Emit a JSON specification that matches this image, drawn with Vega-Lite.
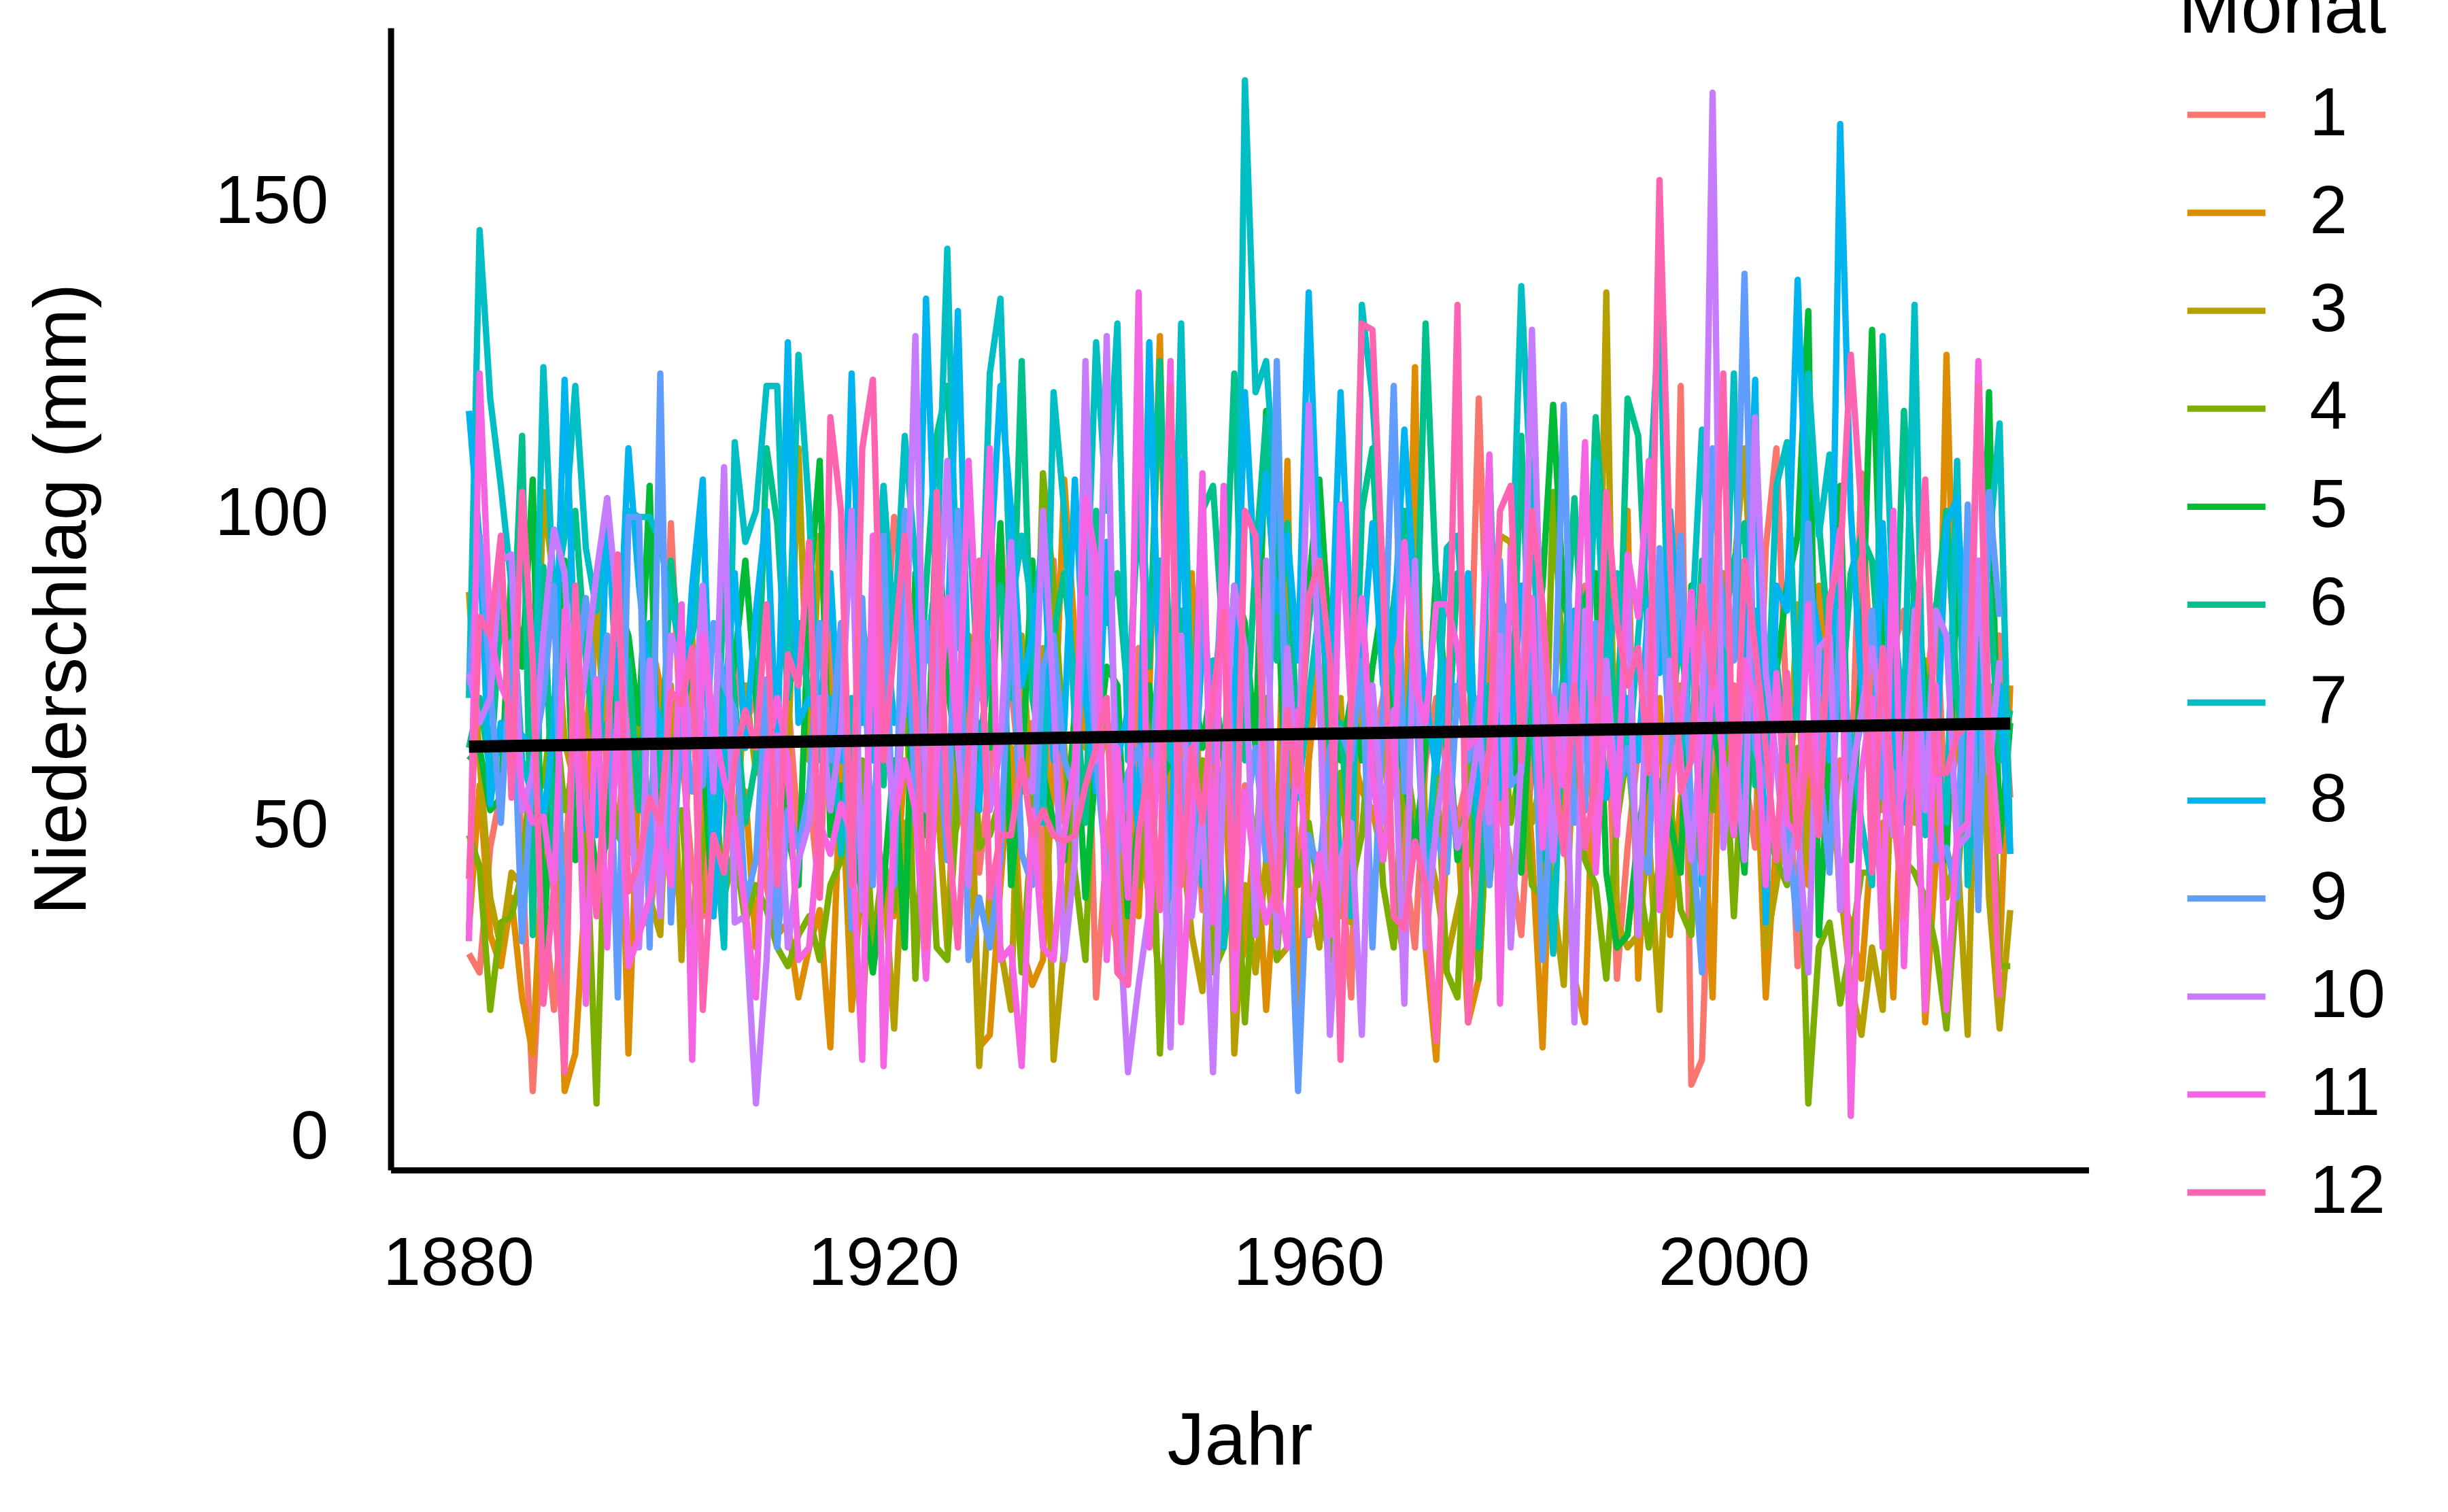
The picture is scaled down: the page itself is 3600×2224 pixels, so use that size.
{"$schema":"https://vega.github.io/schema/vega-lite/v6.json","width":2497,"height":1680,"autosize":{"type":"none"},"padding":{"left":574.6,"top":41,"right":528.4,"bottom":503},"background":"white","config":{"view":{"stroke":null},"font":"Liberation Sans"},
"datasets":{"trend":[{"J":1881,"v":62.2},{"J":2026,"v":65.9}],
"rain":[
{"J":1881,"1":29,"2":33,"3":87,"4":48,"5":60,"6":62,"7":70,"8":116,"9":72,"10":74,"11":31,"12":41},
{"J":1882,"1":26,"2":56,"3":60,"4":43,"5":62,"6":70,"7":145,"8":95,"9":96,"10":66,"11":122,"12":83},
{"J":1883,"1":46,"2":32,"3":38,"4":20,"5":52,"6":58,"7":118,"8":53,"9":72,"10":70,"11":80,"12":80},
{"J":1884,"1":55,"2":27,"3":30,"4":34,"5":54,"6":84,"7":104,"8":66,"9":50,"10":92,"11":72,"12":96},
{"J":1885,"1":82,"2":38,"3":42,"4":35,"5":91,"6":72,"7":88,"8":60,"9":79,"10":93,"11":68,"12":54},
{"J":1886,"1":44,"2":22,"3":40,"4":42,"5":75,"6":112,"7":60,"8":64,"9":31,"10":52,"11":55,"12":103},
{"J":1887,"1":7,"2":13,"3":48,"4":62,"5":105,"6":32,"7":54,"8":62,"9":60,"10":58,"11":50,"12":76},
{"J":1888,"1":38,"2":47,"3":103,"4":56,"5":30,"6":91,"7":123,"8":50,"9":70,"10":80,"11":51,"12":21},
{"J":1889,"1":20,"2":66,"3":88,"4":70,"5":61,"6":45,"7":85,"8":66,"9":88,"10":97,"11":39,"12":40},
{"J":1890,"1":42,"2":7,"3":63,"4":52,"5":92,"6":82,"7":96,"8":121,"9":24,"10":90,"11":84,"12":10},
{"J":1891,"1":70,"2":13,"3":56,"4":60,"5":44,"6":100,"7":120,"8":76,"9":72,"10":60,"11":74,"12":88},
{"J":1892,"1":55,"2":40,"3":63,"4":50,"5":55,"6":76,"7":94,"8":49,"9":86,"10":75,"11":21,"12":54},
{"J":1893,"1":38,"2":90,"3":85,"4":5,"5":42,"6":60,"7":84,"8":48,"9":68,"10":90,"11":73,"12":35},
{"J":1894,"1":54,"2":68,"3":58,"4":62,"5":47,"6":66,"7":102,"8":100,"9":80,"10":102,"11":30,"12":62},
{"J":1895,"1":48,"2":75,"3":74,"4":48,"5":85,"6":60,"7":68,"8":72,"9":22,"10":84,"11":69,"12":93},
{"J":1896,"1":70,"2":13,"3":70,"4":45,"5":80,"6":76,"7":100,"8":110,"9":99,"10":60,"11":27,"12":39},
{"J":1897,"1":33,"2":60,"3":62,"4":70,"5":66,"6":52,"7":99,"8":88,"9":99,"10":30,"11":32,"12":44},
{"J":1898,"1":35,"2":80,"3":38,"4":50,"5":104,"6":82,"7":99,"8":72,"9":30,"10":76,"11":38,"12":54},
{"J":1899,"1":48,"2":72,"3":32,"4":62,"5":42,"6":56,"7":95,"8":66,"9":122,"10":35,"11":50,"12":50},
{"J":1900,"1":98,"2":45,"3":72,"4":50,"5":60,"6":92,"7":85,"8":46,"9":34,"10":80,"11":40,"12":71},
{"J":1901,"1":62,"2":36,"3":28,"4":52,"5":68,"6":75,"7":78,"8":62,"9":70,"10":75,"11":85,"12":69},
{"J":1902,"1":42,"2":32,"3":80,"4":30,"5":75,"6":80,"7":80,"8":88,"9":55,"10":62,"11":12,"12":78},
{"J":1903,"1":35,"2":55,"3":36,"4":46,"5":62,"6":88,"7":102,"8":105,"9":56,"10":88,"11":80,"12":20},
{"J":1904,"1":60,"2":62,"3":40,"4":58,"5":35,"6":42,"7":52,"8":35,"9":82,"10":55,"11":66,"12":48},
{"J":1905,"1":62,"2":74,"3":42,"4":38,"5":64,"6":90,"7":30,"8":68,"9":72,"10":107,"11":57,"12":42},
{"J":1906,"1":75,"2":40,"3":45,"4":46,"5":76,"6":70,"7":111,"8":90,"9":68,"10":34,"11":50,"12":60},
{"J":1907,"1":66,"2":55,"3":72,"4":34,"5":92,"6":50,"7":95,"8":62,"9":37,"10":35,"11":36,"12":68},
{"J":1908,"1":70,"2":30,"3":58,"4":40,"5":70,"6":60,"7":100,"8":84,"9":44,"10":5,"11":22,"12":62},
{"J":1909,"1":40,"2":56,"3":70,"4":36,"5":54,"6":110,"7":120,"8":100,"9":73,"10":28,"11":60,"12":85},
{"J":1910,"1":30,"2":32,"3":64,"4":30,"5":62,"6":98,"7":120,"8":60,"9":30,"10":64,"11":70,"12":40},
{"J":1911,"1":70,"2":34,"3":60,"4":27,"5":48,"6":70,"7":72,"8":127,"9":52,"10":30,"11":60,"12":77},
{"J":1912,"1":48,"2":22,"3":110,"4":32,"5":40,"6":82,"7":125,"8":66,"9":46,"10":44,"11":28,"12":72},
{"J":1913,"1":55,"2":30,"3":60,"4":35,"5":86,"6":70,"7":100,"8":70,"9":55,"10":50,"11":30,"12":95},
{"J":1914,"1":38,"2":36,"3":96,"4":28,"5":108,"6":68,"7":60,"8":66,"9":82,"10":70,"11":50,"12":38},
{"J":1915,"1":88,"2":14,"3":68,"4":40,"5":48,"6":55,"7":70,"8":90,"9":60,"10":52,"11":45,"12":115},
{"J":1916,"1":46,"2":60,"3":72,"4":44,"5":56,"6":80,"7":45,"8":60,"9":82,"10":65,"11":53,"12":100},
{"J":1917,"1":40,"2":20,"3":30,"4":55,"5":50,"6":60,"7":70,"8":122,"9":33,"10":100,"11":48,"12":40},
{"J":1918,"1":44,"2":42,"3":18,"4":60,"5":38,"6":82,"7":66,"8":70,"9":86,"10":36,"11":12,"12":110},
{"J":1919,"1":50,"2":28,"3":50,"4":30,"5":26,"6":70,"7":78,"8":60,"9":40,"10":82,"11":96,"12":121},
{"J":1920,"1":72,"2":38,"3":42,"4":44,"5":40,"6":56,"7":104,"8":85,"9":96,"10":68,"11":11,"12":60},
{"J":1921,"1":99,"2":35,"3":17,"4":36,"5":60,"6":88,"7":80,"8":66,"9":40,"10":52,"11":50,"12":78},
{"J":1922,"1":85,"2":60,"3":50,"4":80,"5":30,"6":75,"7":112,"8":70,"9":100,"10":70,"11":60,"12":96},
{"J":1923,"1":70,"2":55,"3":34,"4":25,"5":90,"6":58,"7":92,"8":65,"9":50,"10":128,"11":52,"12":70},
{"J":1924,"1":68,"2":48,"3":33,"4":62,"5":48,"6":88,"7":76,"8":134,"9":82,"10":52,"11":25,"12":30},
{"J":1925,"1":55,"2":70,"3":56,"4":30,"5":102,"6":112,"7":90,"8":84,"9":68,"10":72,"11":60,"12":103},
{"J":1926,"1":60,"2":44,"3":30,"4":28,"5":72,"6":120,"7":142,"8":78,"9":44,"10":108,"11":86,"12":50},
{"J":1927,"1":50,"2":50,"3":70,"4":55,"5":60,"6":90,"7":78,"8":132,"9":100,"10":62,"11":62,"12":30},
{"J":1928,"1":66,"2":72,"3":60,"4":80,"5":44,"6":76,"7":100,"8":70,"9":28,"10":40,"11":108,"12":62},
{"J":1929,"1":42,"2":14,"3":11,"4":46,"5":66,"6":62,"7":70,"8":52,"9":38,"10":80,"11":72,"12":92},
{"J":1930,"1":58,"2":16,"3":40,"4":48,"5":62,"6":75,"7":122,"8":90,"9":30,"10":52,"11":110,"12":38},
{"J":1931,"1":97,"2":40,"3":30,"4":54,"5":98,"6":88,"7":134,"8":120,"9":44,"10":62,"11":28,"12":48},
{"J":1932,"1":72,"2":62,"3":20,"4":52,"5":40,"6":70,"7":84,"8":100,"9":86,"10":95,"11":30,"12":48},
{"J":1933,"1":55,"2":30,"3":80,"4":26,"5":58,"6":124,"7":96,"8":72,"9":45,"10":58,"11":11,"12":60},
{"J":1934,"1":66,"2":24,"3":52,"4":50,"5":92,"6":70,"7":84,"8":80,"9":40,"10":55,"11":52,"12":48},
{"J":1935,"1":38,"2":28,"3":78,"4":106,"5":58,"6":60,"7":50,"8":96,"9":75,"10":100,"11":30,"12":52},
{"J":1936,"1":92,"2":60,"3":12,"4":88,"5":50,"6":80,"7":119,"8":60,"9":80,"10":70,"11":28,"12":48},
{"J":1937,"1":50,"2":105,"3":30,"4":62,"5":44,"6":90,"7":100,"8":65,"9":60,"10":28,"11":48,"12":47},
{"J":1938,"1":66,"2":80,"3":62,"4":42,"5":68,"6":72,"7":66,"8":105,"9":55,"10":44,"11":60,"12":48},
{"J":1939,"1":85,"2":62,"3":54,"4":28,"5":38,"6":50,"7":80,"8":70,"9":86,"10":124,"11":102,"12":56},
{"J":1940,"1":22,"2":72,"3":56,"4":72,"5":60,"6":100,"7":127,"8":55,"9":60,"10":60,"11":92,"12":62},
{"J":1941,"1":46,"2":38,"3":66,"4":66,"5":75,"6":82,"7":100,"8":95,"9":42,"10":128,"11":28,"12":70},
{"J":1942,"1":62,"2":30,"3":64,"4":52,"5":72,"6":90,"7":130,"8":60,"9":45,"10":40,"11":62,"12":26},
{"J":1943,"1":30,"2":56,"3":25,"4":50,"5":35,"6":70,"7":60,"8":68,"9":58,"10":10,"11":38,"12":24},
{"J":1944,"1":78,"2":35,"3":50,"4":40,"5":50,"6":100,"7":108,"8":48,"9":62,"10":24,"11":135,"12":48},
{"J":1945,"1":55,"2":70,"3":38,"4":70,"5":72,"6":75,"7":80,"8":127,"9":50,"10":36,"11":30,"12":60},
{"J":1946,"1":40,"2":128,"3":25,"4":13,"5":56,"6":124,"7":92,"8":70,"9":80,"10":66,"11":72,"12":36},
{"J":1947,"1":58,"2":46,"3":30,"4":46,"5":60,"6":70,"7":60,"8":38,"9":18,"10":14,"11":124,"12":120},
{"J":1948,"1":62,"2":60,"3":48,"4":50,"5":78,"6":84,"7":130,"8":108,"9":60,"10":80,"11":18,"12":40},
{"J":1949,"1":70,"2":90,"3":32,"4":50,"5":74,"6":62,"7":62,"8":50,"9":40,"10":35,"11":48,"12":62},
{"J":1950,"1":36,"2":40,"3":23,"4":60,"5":62,"6":100,"7":40,"8":78,"9":90,"10":52,"11":106,"12":50},
{"J":1951,"1":72,"2":28,"3":60,"4":26,"5":74,"6":104,"7":76,"8":70,"9":60,"10":10,"11":34,"12":70},
{"J":1952,"1":60,"2":60,"3":90,"4":30,"5":60,"6":78,"7":30,"8":86,"9":96,"10":58,"11":104,"12":84},
{"J":1953,"1":40,"2":24,"3":13,"4":50,"5":88,"6":122,"7":45,"8":66,"9":48,"10":88,"11":20,"12":30},
{"J":1954,"1":56,"2":30,"3":40,"4":18,"5":82,"6":60,"7":169,"8":119,"9":50,"10":78,"11":55,"12":100},
{"J":1955,"1":48,"2":50,"3":26,"4":45,"5":62,"6":92,"7":119,"8":88,"9":62,"10":32,"11":42,"12":96},
{"J":1956,"1":50,"2":20,"3":44,"4":70,"5":116,"6":115,"7":124,"8":106,"9":44,"10":92,"11":34,"12":52},
{"J":1957,"1":48,"2":44,"3":28,"4":28,"5":90,"6":76,"7":100,"8":84,"9":124,"10":30,"11":40,"12":36},
{"J":1958,"1":65,"2":108,"3":30,"4":55,"5":48,"6":98,"7":76,"8":96,"9":52,"10":78,"11":30,"12":68},
{"J":1959,"1":42,"2":12,"3":62,"4":40,"5":60,"6":60,"7":54,"8":76,"9":7,"10":55,"11":68,"12":56},
{"J":1960,"1":60,"2":60,"3":40,"4":50,"5":88,"6":82,"7":70,"8":135,"9":48,"10":117,"11":32,"12":86},
{"J":1961,"1":75,"2":82,"3":30,"4":38,"5":105,"6":94,"7":84,"8":88,"9":42,"10":72,"11":45,"12":92},
{"J":1962,"1":52,"2":78,"3":50,"4":28,"5":78,"6":60,"7":72,"8":72,"9":62,"10":16,"11":32,"12":76},
{"J":1963,"1":44,"2":35,"3":70,"4":58,"5":60,"6":66,"7":42,"8":119,"9":65,"10":44,"11":101,"12":12},
{"J":1964,"1":22,"2":62,"3":34,"4":40,"5":70,"6":45,"7":35,"8":80,"9":60,"10":50,"11":68,"12":70},
{"J":1965,"1":85,"2":55,"3":82,"4":48,"5":60,"6":100,"7":133,"8":76,"9":76,"10":16,"11":86,"12":130},
{"J":1966,"1":62,"2":52,"3":58,"4":70,"5":75,"6":110,"7":118,"8":98,"9":30,"10":72,"11":58,"12":129},
{"J":1967,"1":70,"2":44,"3":66,"4":40,"5":86,"6":75,"7":90,"8":72,"9":68,"10":50,"11":44,"12":88},
{"J":1968,"1":82,"2":60,"3":38,"4":30,"5":62,"6":85,"7":72,"8":80,"9":120,"10":68,"11":58,"12":35},
{"J":1969,"1":44,"2":54,"3":28,"4":62,"5":58,"6":100,"7":58,"8":113,"9":55,"10":21,"11":95,"12":33},
{"J":1970,"1":30,"2":123,"3":100,"4":50,"5":45,"6":68,"7":82,"8":85,"9":72,"10":92,"11":72,"12":47},
{"J":1971,"1":60,"2":30,"3":48,"4":38,"5":62,"6":130,"7":40,"8":70,"9":40,"10":30,"11":66,"12":40},
{"J":1972,"1":70,"2":12,"3":40,"4":60,"5":90,"6":88,"7":62,"8":58,"9":48,"10":50,"11":85,"12":15},
{"J":1973,"1":58,"2":48,"3":28,"4":26,"5":68,"6":60,"7":94,"8":76,"9":42,"10":62,"11":85,"12":58},
{"J":1974,"1":50,"2":50,"3":36,"4":22,"5":44,"6":90,"7":96,"8":68,"9":72,"10":46,"11":78,"12":133},
{"J":1975,"1":58,"2":18,"3":44,"4":60,"5":54,"6":84,"7":72,"8":90,"9":60,"10":52,"11":62,"12":18},
{"J":1976,"1":118,"2":25,"3":54,"4":25,"5":58,"6":30,"7":66,"8":48,"9":70,"10":64,"11":64,"12":50},
{"J":1977,"1":66,"2":58,"3":70,"4":58,"5":40,"6":72,"7":50,"8":108,"9":40,"10":50,"11":109,"12":62},
{"J":1978,"1":52,"2":66,"3":96,"4":72,"5":62,"6":70,"7":86,"8":54,"9":92,"10":80,"11":21,"12":100},
{"J":1979,"1":44,"2":80,"3":95,"4":50,"5":76,"6":58,"7":82,"8":62,"9":56,"10":30,"11":94,"12":104},
{"J":1980,"1":32,"2":70,"3":64,"4":60,"5":42,"6":112,"7":136,"8":88,"9":58,"10":60,"11":68,"12":60},
{"J":1981,"1":60,"2":46,"3":50,"4":40,"5":74,"6":66,"7":100,"8":78,"9":84,"10":129,"11":86,"12":100},
{"J":1982,"1":78,"2":14,"3":58,"4":38,"5":88,"6":44,"7":62,"8":74,"9":28,"10":70,"11":46,"12":85},
{"J":1983,"1":48,"2":62,"3":38,"4":103,"5":117,"6":60,"7":29,"8":56,"9":60,"10":44,"11":70,"12":60},
{"J":1984,"1":70,"2":54,"3":24,"4":72,"5":85,"6":74,"7":72,"8":66,"9":117,"10":72,"11":56,"12":45},
{"J":1985,"1":52,"2":25,"3":66,"4":60,"5":80,"6":102,"7":68,"8":84,"9":50,"10":18,"11":72,"12":72},
{"J":1986,"1":88,"2":18,"3":78,"4":44,"5":86,"6":70,"7":62,"8":60,"9":52,"10":84,"11":111,"12":46},
{"J":1987,"1":60,"2":72,"3":46,"4":40,"5":90,"6":115,"7":108,"8":76,"9":82,"10":60,"11":42,"12":57},
{"J":1988,"1":78,"2":88,"3":135,"4":25,"5":42,"6":90,"7":72,"8":54,"9":66,"10":76,"11":70,"12":103},
{"J":1989,"1":25,"2":68,"3":34,"4":50,"5":30,"6":60,"7":90,"8":64,"9":54,"10":52,"11":48,"12":82},
{"J":1990,"1":46,"2":100,"3":30,"4":62,"5":32,"6":118,"7":58,"8":70,"9":62,"10":90,"11":93,"12":72},
{"J":1991,"1":62,"2":25,"3":32,"4":42,"5":48,"6":112,"7":80,"8":60,"9":46,"10":32,"11":83,"12":78},
{"J":1992,"1":72,"2":56,"3":48,"4":30,"5":60,"6":76,"7":100,"8":86,"9":42,"10":84,"11":108,"12":58},
{"J":1993,"1":50,"2":70,"3":20,"4":44,"5":56,"6":88,"7":133,"8":74,"9":94,"10":42,"11":36,"12":153},
{"J":1994,"1":40,"2":32,"3":60,"4":54,"5":50,"6":66,"7":68,"8":100,"9":60,"10":76,"11":55,"12":92},
{"J":1995,"1":120,"2":54,"3":72,"4":36,"5":42,"6":80,"7":60,"8":76,"9":96,"10":60,"11":66,"12":55},
{"J":1996,"1":8,"2":64,"3":40,"4":32,"5":88,"6":62,"7":80,"8":84,"9":50,"10":44,"11":87,"12":60},
{"J":1997,"1":12,"2":58,"3":60,"4":70,"5":52,"6":92,"7":113,"8":40,"9":26,"10":66,"11":42,"12":88},
{"J":1998,"1":62,"2":22,"3":66,"4":52,"5":66,"6":75,"7":78,"8":72,"9":110,"10":167,"11":76,"12":72},
{"J":1999,"1":48,"2":90,"3":84,"4":68,"5":56,"6":80,"7":66,"8":62,"9":80,"10":46,"11":60,"12":122},
{"J":2000,"1":72,"2":60,"3":90,"4":35,"5":60,"6":92,"7":122,"8":82,"9":76,"10":64,"11":48,"12":50},
{"J":2001,"1":58,"2":56,"3":110,"4":66,"5":42,"6":98,"7":52,"8":72,"9":138,"10":44,"11":76,"12":92},
{"J":2002,"1":46,"2":68,"3":72,"4":58,"5":80,"6":56,"7":84,"8":121,"9":62,"10":115,"11":70,"12":78},
{"J":2003,"1":94,"2":22,"3":30,"4":50,"5":66,"6":64,"7":60,"8":34,"9":56,"10":74,"11":40,"12":62},
{"J":2004,"1":110,"2":48,"3":40,"4":44,"5":74,"6":76,"7":104,"8":88,"9":60,"10":60,"11":74,"12":44},
{"J":2005,"1":66,"2":52,"3":52,"4":40,"5":88,"6":60,"7":111,"8":84,"9":50,"10":41,"11":50,"12":74},
{"J":2006,"1":27,"2":74,"3":85,"4":62,"5":96,"6":70,"7":66,"8":137,"9":33,"10":50,"11":48,"12":46},
{"J":2007,"1":58,"2":40,"3":44,"4":5,"5":132,"6":110,"7":122,"8":90,"9":98,"10":26,"11":85,"12":64},
{"J":2008,"1":70,"2":88,"3":62,"4":30,"5":32,"6":98,"7":96,"8":80,"9":60,"10":78,"11":50,"12":48},
{"J":2009,"1":44,"2":64,"3":60,"4":34,"5":62,"6":78,"7":109,"8":60,"9":42,"10":80,"11":84,"12":86},
{"J":2010,"1":60,"2":38,"3":40,"4":21,"5":104,"6":66,"7":72,"8":162,"9":84,"10":36,"11":97,"12":92},
{"J":2011,"1":54,"2":34,"3":24,"4":30,"5":44,"6":90,"7":64,"8":100,"9":58,"10":56,"11":3,"12":125},
{"J":2012,"1":106,"2":25,"3":16,"4":42,"5":76,"6":96,"7":50,"8":72,"9":66,"10":68,"11":58,"12":100},
{"J":2013,"1":68,"2":48,"3":30,"4":42,"5":129,"6":92,"7":40,"8":56,"9":84,"10":78,"11":70,"12":42},
{"J":2014,"1":52,"2":50,"3":20,"4":60,"5":76,"6":70,"7":128,"8":98,"9":54,"10":66,"11":30,"12":78},
{"J":2015,"1":78,"2":22,"3":66,"4":56,"5":60,"6":64,"7":84,"8":62,"9":58,"10":48,"11":100,"12":52},
{"J":2016,"1":84,"2":64,"3":70,"4":44,"5":58,"6":116,"7":66,"8":50,"9":40,"10":56,"11":27,"12":35},
{"J":2017,"1":56,"2":72,"3":50,"4":42,"5":88,"6":84,"7":133,"8":85,"9":64,"10":84,"11":70,"12":74},
{"J":2018,"1":70,"2":18,"3":76,"4":38,"5":72,"6":60,"7":48,"8":60,"9":58,"10":52,"11":20,"12":105},
{"J":2019,"1":85,"2":44,"3":58,"4":30,"5":60,"6":84,"7":62,"8":58,"9":44,"10":84,"11":72,"12":58},
{"J":2020,"1":48,"2":125,"3":38,"4":17,"5":44,"6":100,"7":50,"8":98,"9":46,"10":80,"11":20,"12":58},
{"J":2021,"1":64,"2":62,"3":46,"4":40,"5":90,"6":70,"7":108,"8":102,"9":38,"10":46,"11":48,"12":64},
{"J":2022,"1":78,"2":54,"3":16,"4":62,"5":64,"6":56,"7":40,"8":72,"9":101,"10":48,"11":50,"12":66},
{"J":2023,"1":70,"2":80,"3":86,"4":50,"5":52,"6":76,"7":68,"8":64,"9":36,"10":92,"11":124,"12":120},
{"J":2024,"1":80,"2":46,"3":38,"4":72,"5":119,"6":88,"7":94,"8":60,"9":103,"10":58,"11":66,"12":62},
{"J":2025,"1":80,"2":28,"3":17,"4":27,"5":46,"6":60,"7":114,"8":72,"9":83,"10":76,"11":45,"12":22},
{"J":2026,"1":54,"2":72,"3":36,"4":27,"5":66,"6":68,"7":45,"8":45}
]},
"layer":[
{"data":{"name":"rain"},"transform":[{"fold":["1","2","3","4","5","6","7","8","9","10","11","12"],"as":["Monat","v"]},{"filter":"isValid(datum.v)"}],
"mark":{"type":"line","strokeWidth":9.3,"strokeJoin":"round","clip":false},
"encoding":{"x":{"field":"J","type":"quantitative","scale":{"domain":[1873.64,2033.38],"nice":false,"zero":false},"axis":{"values":[1880,1920,1960,2000],"format":"d","title":"Jahr","grid":false,"ticks":false,"tickSize":0,"domainColor":"black","domainWidth":9,"labelFont":"Liberation Sans","labelFontSize":100,"labelColor":"black","labelLimit":0,"labelOverlap":false,"labelPadding":89,"labelBaseline":"top","titleFont":"Liberation Sans","titleFontSize":110,"titleFontWeight":"normal","titleColor":"black","titleY":432,"titleBaseline":"alphabetic","titleAnchor":"middle"}},
"y":{"field":"v","type":"quantitative","scale":{"domain":[-5.67,177.4],"nice":false,"zero":false},"axis":{"values":[0,50,100,150],"title":"Niederschlag (mm)","grid":false,"ticks":false,"tickSize":0,"domainColor":"black","domainWidth":9,"labelFont":"Liberation Sans","labelFontSize":100,"labelColor":"black","labelPadding":92,"labelOffset":5,"titleFont":"Liberation Sans","titleFontSize":110,"titleFontWeight":"normal","titleColor":"black","titleX":-448.6,"titleBaseline":"alphabetic","titleAngle":-90,"titleAnchor":"middle"}},
"color":{"field":"Monat","type":"nominal","scale":{"domain":["1","2","3","4","5","6","7","8","9","10","11","12"],"range":["#F8766D","#DE8C00","#B79F00","#7CAE00","#00BA38","#00C08B","#00BFC4","#00B4F0","#619CFF","#C77CFF","#F564E3","#FF64B0"]},
"legend":{"orient":"none","legendX":2629,"legendY":-80,"title":"Monat","titleFont":"Liberation Sans","titleFontSize":110,"titleFontWeight":"normal","titleColor":"black","titleLimit":0,"titlePadding":35.4,"padding":0,"symbolType":"stroke","symbolSize":13225,"symbolStrokeWidth":9.3,"symbolOffset":8,"labelFont":"Liberation Sans","labelFontSize":100,"labelColor":"black","labelLimit":0,"labelOffset":60,"rowPadding":31.1,"columns":1}}}},
{"data":{"name":"trend"},"mark":{"type":"line","color":"black","strokeWidth":18},"encoding":{"x":{"field":"J","type":"quantitative"},"y":{"field":"v","type":"quantitative"}}}
]}
